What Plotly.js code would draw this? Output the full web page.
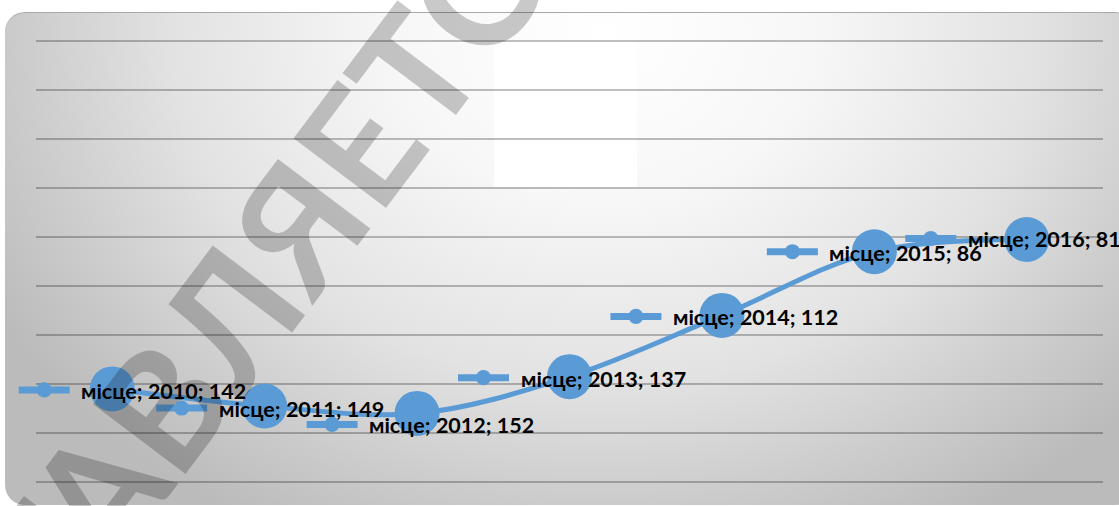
<!DOCTYPE html>
<html>
<head>
<meta charset="utf-8">
<script src="https://cdn.plot.ly/plotly-3.0.1.min.js"></script>
<style>
  html, body { margin: 0; padding: 0; background: #ffffff; width: 1119px; height: 506px; overflow: hidden; }
  #bg {
    position: absolute; left: 5px; top: 12px; width: 1130px; height: 492px;
    border-radius: 20px; border-top: 1px solid #a8a8a8;
    background: radial-gradient(ellipse 62% 115% at 53% 4%, #ffffff 0%, #f7f7f7 30%, #e2e2e2 62%, #cdcdcd 82%, #bbbbbb 100%);
  }
  #patch { position: absolute; left: 494px; top: 41px; width: 143px; height: 146px; background: #ffffff; }
  #chart { position: absolute; left: 0; top: 0; width: 1119px; height: 506px; }
</style>
</head>
<body>
<div id="bg"></div>
<div id="patch"></div>
<div id="chart"></div>
<script>
// ---- data ----
const years = [2010, 2011, 2012, 2013, 2014, 2015, 2016];
const ranks = [142, 149, 152, 137, 112, 86, 81];
const seriesName = "місце";
const gridValues = [0, 20, 40, 60, 80, 100, 120, 140, 160, 180];

// ---- label nudges (pixels: left edge of text relative to marker, vertical offset downwards) ----
const labelDx = [-33, -48, -50, -51, -51, -47, -61];
const labelDy = [1, 2, 11, 1, 1, 0, -1];

const blue = "#5b9bd5";
const gridColor = "rgba(0,0,0,0.25)";

const trace = {
  x: years,
  y: ranks,
  type: "scatter",
  mode: "lines+markers",
  line: { color: blue, width: 5, shape: "spline", smoothing: 1 },
  marker: { color: blue, size: 45, line: { width: 0 } },
  hoverinfo: "skip"
};

const shapes = [];
// edge grid lines (Plotly skips grid lines on the plot edges)
[gridValues[0], gridValues[gridValues.length - 1]].forEach(v => {
  shapes.push({
    type: "line", xref: "paper", yref: "y", x0: 0, x1: 1, y0: v, y1: v,
    line: { color: gridColor, width: 2 }, layer: "below"
  });
});

const annotations = [];
years.forEach((yr, i) => {
  const dx = labelDx[i], dy = labelDy[i];
  // legend-key icon: two half lines meeting at a dot
  annotations.push({
    x: yr, y: ranks[i], xref: "x", yref: "y", text: "",
    showarrow: true, arrowhead: 6, arrowsize: 0.54, arrowwidth: 7, arrowcolor: blue,
    standoff: 0, startstandoff: 0, ax: -27, ay: 0,
    xshift: dx - 35, yshift: -dy
  });
  annotations.push({
    x: yr, y: ranks[i], xref: "x", yref: "y", text: "",
    showarrow: true, arrowhead: 0, arrowwidth: 7, arrowcolor: blue,
    standoff: 0, startstandoff: 0, ax: 27, ay: 0,
    xshift: dx - 35, yshift: -dy
  });
  annotations.push({
    x: yr, y: ranks[i], xref: "x", yref: "y",
    text: "<b>" + seriesName + "; " + yr + "; " + ranks[i] + "</b>",
    showarrow: false, xanchor: "left", yanchor: "middle",
    xshift: dx, yshift: -dy - 1,
    font: { family: "Lato, 'Open Sans', sans-serif", size: 21.5, color: "#000000" }
  });
});

// watermark (decorative overlay)
const W = 1119, H = 506, ml = 36, mr = 16, mt = 40, mb = 23;
const wmX = 126, wmY = 450;
annotations.push({
  xref: "paper", yref: "paper",
  x: (wmX - ml) / (W - ml - mr), y: (H - mb - wmY) / (H - mt - mb),
  xanchor: "center", yanchor: "middle",
  text: "<b>ПРЕДСТАВЛЯЕТСЯ</b>", showarrow: false, textangle: -53,
  font: { family: "Lato, 'Open Sans', sans-serif", size: 160, color: "rgba(0,0,0,0.21)" }
});

const layout = {
  width: W, height: H,
  margin: { l: ml, r: mr, t: mt, b: mb, pad: 0 },
  paper_bgcolor: "rgba(0,0,0,0)",
  plot_bgcolor: "rgba(0,0,0,0)",
  showlegend: false,
  xaxis: {
    range: [2009.5, 2016.5], showgrid: false, zeroline: false,
    showticklabels: false, ticks: "", showline: false, fixedrange: true
  },
  yaxis: {
    range: [180.4, -0.4], tickmode: "array", tickvals: gridValues, showgrid: true,
    gridcolor: gridColor, gridwidth: 2,
    zeroline: false, showticklabels: false, ticks: "", showline: false, fixedrange: true
  },
  shapes: shapes,
  annotations: annotations
};

Plotly.newPlot("chart", [trace], layout, { displayModeBar: false, staticPlot: true });
</script>
</body>
</html>
